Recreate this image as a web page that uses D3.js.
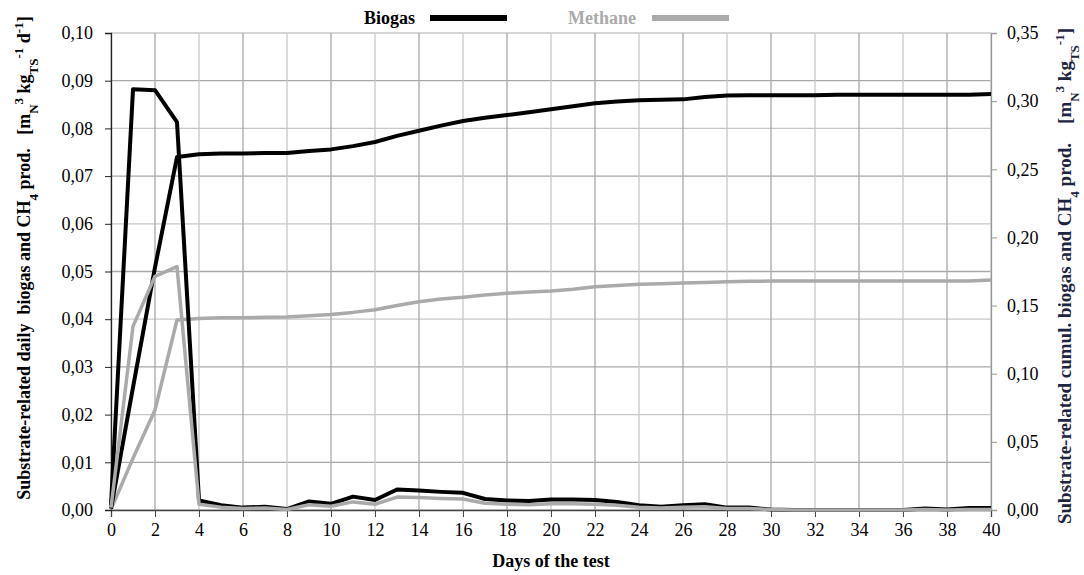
<!DOCTYPE html>
<html>
<head>
<meta charset="utf-8">
<script src="https://cdn.jsdelivr.net/npm/d3@7"></script>
<style>
  body { margin: 0; background: #fff; }
  text { font-family: "Liberation Serif", "Times New Roman", serif; }
  .tick text { font-size: 18px; fill: #000; font-family: "Liberation Serif", "Times New Roman", serif; }
</style>
</head>
<body>
<div id="chart"></div>
<script>
var days = d3.range(0, 41);
var dailyBiogas = [0.001, 0.0882, 0.0880, 0.0813, 0.0020, 0.0010, 0.0005, 0.0007, 0.0002, 0.0018,
  0.0013, 0.0028, 0.0021, 0.0043, 0.0041, 0.0038, 0.0036, 0.0023, 0.0020, 0.0019,
  0.0022, 0.0022, 0.0021, 0.0017, 0.0010, 0.0007, 0.0010, 0.0012, 0.0005, 0.0005,
  0.0001, 0.0000, 0.0000, 0.0000, 0.0000, 0.0000, 0.0000, 0.0003, 0.0001, 0.0004, 0.0004];
var dailyMethane = [0.0005, 0.0385, 0.0490, 0.0510, 0.0012, 0.0006, 0.0003, 0.0004, 0.0001, 0.0011,
  0.0008, 0.0017, 0.0012, 0.0027, 0.0026, 0.0024, 0.0023, 0.0014, 0.0012, 0.0011,
  0.0013, 0.0013, 0.0012, 0.0010, 0.0006, 0.0004, 0.0006, 0.0007, 0.0003, 0.0003,
  0.0001, 0.0000, 0.0000, 0.0000, 0.0000, 0.0000, 0.0000, 0.0001, 0.0000, 0.0001, 0.0001];
var cumulBiogas = [0.001, 0.090, 0.178, 0.259, 0.261, 0.2615, 0.2615, 0.262, 0.262, 0.2635,
  0.2646, 0.267, 0.2700, 0.2745, 0.2783, 0.282, 0.2854, 0.2878, 0.2898, 0.2918,
  0.2940, 0.2962, 0.2984, 0.2998, 0.3007, 0.301, 0.3013, 0.3030, 0.3042, 0.3043,
  0.3044, 0.3044, 0.3044, 0.3047, 0.3047, 0.3047, 0.3047, 0.3047, 0.3047, 0.3047, 0.3052];
var cumulMethane = [0.0005, 0.038, 0.0734, 0.1394, 0.1406, 0.1410, 0.1411, 0.1414, 0.1416, 0.1425,
  0.1435, 0.1450, 0.1470, 0.1500, 0.1528, 0.1548, 0.1561, 0.1578, 0.1590, 0.1600,
  0.1607, 0.1620, 0.1638, 0.1648, 0.1656, 0.1660, 0.1665, 0.1670, 0.1675, 0.1678,
  0.1680, 0.1680, 0.1680, 0.1680, 0.1680, 0.1680, 0.1680, 0.1680, 0.1680, 0.1680, 0.1687];
var xTicks = d3.range(0, 41, 2);
var leftTicks = d3.range(0, 0.1001, 0.01);
var rightTicks = d3.range(0, 0.3501, 0.05);

var svgWidth = 1084, svgHeight = 575;
var margin = { top: 33, right: 93, bottom: 65, left: 111 };
var width = svgWidth - margin.left - margin.right;
var height = svgHeight - margin.top - margin.bottom;

var svg = d3.select("#chart").append("svg")
  .attr("width", svgWidth).attr("height", svgHeight);
var g = svg.append("g").attr("transform", `translate(${margin.left},${margin.top})`);

var x = d3.scaleLinear().domain([0, 40]).range([0, width]);
var yL = d3.scaleLinear().domain([0, 0.10]).range([height, 0]);
var yR = d3.scaleLinear().domain([0, 0.35]).range([height, 0]);
var fmt = d => d3.format(".2f")(d).replace(".", ",");

// grid
g.selectAll(".hgrid").data(leftTicks).enter().append("line")
  .attr("x1", 0).attr("x2", width)
  .attr("y1", d => yL(d)).attr("y2", d => yL(d))
  .attr("stroke", (d, i) => i % 2 ? "#a8a8a8" : "#c8c8c8").attr("stroke-width", 1.3);
g.selectAll(".vgrid").data(xTicks).enter().append("line")
  .attr("x1", d => x(d)).attr("x2", d => x(d))
  .attr("y1", 0).attr("y2", height)
  .attr("stroke", (d, i) => i % 2 ? "#a8a8a8" : "#c8c8c8").attr("stroke-width", 1.3);

// axes
var xAxis = g.append("g").attr("transform", `translate(0,${height})`)
  .call(d3.axisBottom(x).tickValues(xTicks).tickFormat(d3.format("d")).tickSize(7).tickPadding(6));
xAxis.select(".domain").attr("stroke", "#444").attr("stroke-width", 1.3);
xAxis.selectAll(".tick line").attr("stroke", "#444");

var yAxisL = g.append("g")
  .call(d3.axisLeft(yL).tickValues(leftTicks).tickFormat(fmt).tickSize(6).tickPadding(12));
yAxisL.select(".domain").attr("stroke", "#222").attr("stroke-width", 1.3);
yAxisL.selectAll(".tick line").attr("stroke", "#222");

var yAxisR = g.append("g").attr("transform", `translate(${width},0)`)
  .call(d3.axisRight(yR).tickValues(rightTicks).tickFormat(fmt).tickSize(6).tickPadding(10));
yAxisR.select(".domain").attr("stroke", "#999").attr("stroke-width", 1.3);
yAxisR.selectAll(".tick line").attr("stroke", "#999");

[xAxis, yAxisL, yAxisR].forEach(a => a.attr("font-family", null).attr("font-size", null));

// series
var lineL = d3.line().x((d, i) => x(days[i])).y(d => yL(d));
var lineR = d3.line().x((d, i) => x(days[i])).y(d => yR(d));
var grey = "#aaaaaa";

g.append("path").datum(cumulMethane).attr("d", lineR)
  .attr("fill", "none").attr("stroke", grey).attr("stroke-width", 3.5).attr("stroke-linejoin", "round");
g.append("path").datum(cumulBiogas).attr("d", lineR)
  .attr("fill", "none").attr("stroke", "#000").attr("stroke-width", 4).attr("stroke-linejoin", "round");
g.append("path").datum(dailyBiogas).attr("d", lineL)
  .attr("fill", "none").attr("stroke", "#000").attr("stroke-width", 4).attr("stroke-linejoin", "round");
g.append("path").datum(dailyMethane).attr("d", lineL)
  .attr("fill", "none").attr("stroke", grey).attr("stroke-width", 3.5).attr("stroke-linejoin", "round");

// legend
svg.append("text").attr("x", 415).attr("y", 24).attr("text-anchor", "end")
  .attr("font-size", 18).attr("font-weight", "bold").attr("fill", "#000").text("Biogas");
svg.append("line").attr("x1", 430).attr("x2", 507).attr("y1", 18).attr("y2", 18)
  .attr("stroke", "#000").attr("stroke-width", 6);
svg.append("text").attr("x", 636).attr("y", 24).attr("text-anchor", "end")
  .attr("font-size", 18).attr("font-weight", "bold").attr("fill", grey).text("Methane");
svg.append("line").attr("x1", 652).attr("x2", 729).attr("y1", 18).attr("y2", 18)
  .attr("stroke", grey).attr("stroke-width", 6);

// x title
svg.append("text").attr("x", margin.left + width / 2).attr("y", 567).attr("text-anchor", "middle")
  .attr("font-size", 18).attr("font-weight", "bold").text("Days of the test");

// y titles with sub/superscripts
function title(sel, parts) {
  parts.forEach(p => {
    var t = sel.append("tspan").text(p[0]);
    if (p[1] === "sub") t.attr("baseline-shift", "sub").attr("font-size", 13);
    if (p[1] === "sup") t.attr("baseline-shift", "super").attr("font-size", 13);
  });
}
var leftTitle = svg.append("text")
  .attr("transform", `translate(30,258) rotate(-90)`)
  .attr("text-anchor", "middle").attr("font-size", 18).attr("font-weight", "bold")
  .attr("fill", "#000").style("white-space", "pre");
title(leftTitle, [["Substrate-related daily  biogas and CH"], ["4", "sub"], [" prod.   [m"],
  ["N", "sub"], ["3", "sup"], [" kg"], ["TS", "sub"], ["-1", "sup"], [" d"], ["-1", "sup"], ["]"]]);

var rightTitle = svg.append("text")
  .attr("transform", `translate(1071,276) rotate(-90)`)
  .attr("text-anchor", "middle").attr("font-size", 19).attr("font-weight", "bold")
  .attr("fill", "#1c2440").style("white-space", "pre");
title(rightTitle, [["Substrate-related cumul. biogas and CH"], ["4", "sub"], [" prod.    [m"],
  ["N", "sub"], ["3", "sup"], [" kg"], ["TS", "sub"], ["-1", "sup"], ["]"]]);
</script>
</body>
</html>
